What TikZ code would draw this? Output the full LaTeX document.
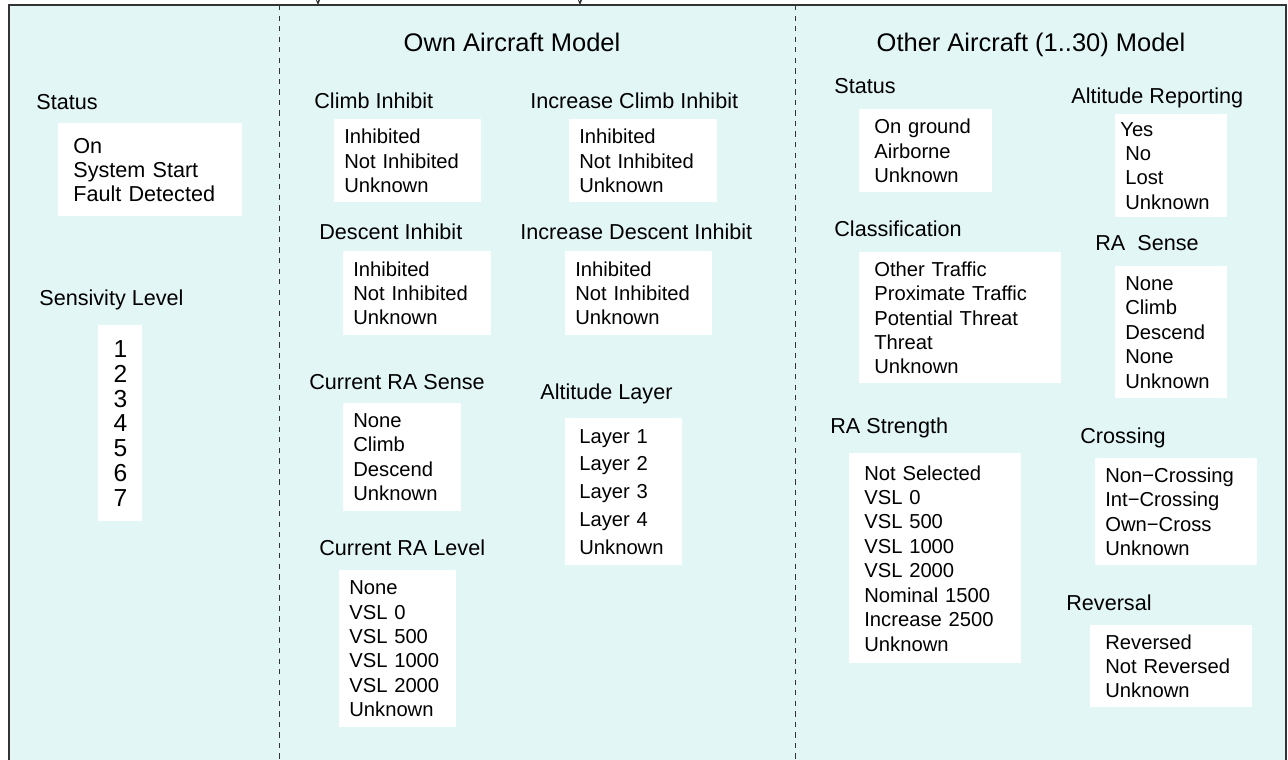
\documentclass[tikz,border=0pt]{standalone}
\usepackage{fontspec}
\setmainfont{Liberation Sans}
\usepackage{tikz}
\usetikzlibrary{arrows.meta,
positioning}
\definecolor{panel}{HTML}{E3F6F6}
\definecolor{frameline}{HTML}{333333}

\begin{document}
\begin{tikzpicture}[
				x=0.02cm, y=-0.02cm,
				title/.style={
					font=\fontsize{14.5}{17}\selectfont,
					anchor=base,
					inner sep=0pt
				},
				field/.style={
					font=\fontsize{12.3}{14}\selectfont,
					anchor=base west,
					inner sep=0pt
				},
				values/.style={
					fill=white,
					anchor=north west,
					align=left,
					inner ysep=0pt,
					font=\fontsize{11.5}{13.9}\selectfont
				}
				]
				\useasboundingbox (0,0) rectangle (1288,760);
				\clip (0,0) rectangle (1288,760);
				
				% frame and panels
				\draw[fill=panel, draw=frameline, line width=0.7pt] (9,5) rectangle (1286,800);
				\draw[dashed, draw=frameline, line width=0.4pt] (279,5) -- (279,800);
				\draw[dashed, draw=frameline, line width=0.4pt] (795,5) -- (795,800);
				
				% incoming arrows from above
				\coordinate (in1) at (318,-20);
				\coordinate (in1end) at (318,5);
				\coordinate (in2) at (580,-20);
				\coordinate (in2end) at (580,5);
				\draw[-{Stealth[length=3pt,width=2.5pt]}, draw=frameline, line width=0.5pt] (in1) -- (in1end);
				\draw[-{Stealth[length=3pt,width=2.5pt]}, draw=frameline, line width=0.5pt] (in2) -- (in2end);
				
				% system panel
				\node[field] (status) at (36,110) {Status};
				\node[values, text width=3.08cm, inner xsep=0.3cm, minimum height=1.86cm,
					font=\fontsize{12.3}{13.6}\selectfont] (statusv) at (58,123) {On\\System Start\\Fault Detected};
				\node[field] (level) at (39,305) {Sensivity Level};
				\node[values, align=center, inner xsep=0pt, minimum width=0.88cm, minimum height=3.92cm,
					font=\fontsize{14}{14.1}\selectfont] (levelv) at (98,325) {1\\2\\3\\4\\5\\6\\7};
				
				% own aircraft model
				\node[title] (own) at (512,52) {Own Aircraft Model};
				
				\node[field] (climb) at (314,109) {Climb Inhibit};
				\node[values, text width=2.54cm, inner xsep=0.2cm, minimum height=1.66cm] (climbv) at (334,119) {Inhibited\\Not Inhibited\\Unknown};
				\node[field] (incclimb) at (530,109) {Increase Climb Inhibit};
				\node[values, text width=2.56cm, inner xsep=0.2cm, minimum height=1.66cm] (incclimbv) at (569,119) {Inhibited\\Not Inhibited\\Unknown};
				
				\node[field] (descent) at (319,240) {Descent Inhibit};
				\node[values, text width=2.56cm, inner xsep=0.2cm, minimum height=1.68cm] (descentv) at (343,251) {Inhibited\\Not Inhibited\\Unknown};
				\node[field] (incdescent) at (520,240) {Increase Descent Inhibit};
				\node[values, text width=2.54cm, inner xsep=0.2cm, minimum height=1.68cm] (incdescentv) at (565,251) {Inhibited\\Not Inhibited\\Unknown};
				
				\node[field] (sense) at (309,389) {Current RA Sense};
				\node[values, text width=1.96cm, inner xsep=0.2cm, minimum height=2.16cm] (sensev) at (343,403) {None\\Climb\\Descend\\Unknown};
				\node[field] (ralevel) at (319,555) {Current RA Level};
				\node[values, text width=1.94cm, inner xsep=0.2cm, minimum height=3.14cm] (ralevelv) at (339,570) {None\\VSL 0\\VSL 500\\VSL 1000\\VSL 2000\\Unknown};
				
				\node[field] (layer) at (540,399) {Altitude Layer};
				\node[values, text width=1.78cm, inner xsep=0.28cm, minimum height=2.94cm,
					font=\fontsize{11.5}{15.8}\selectfont] (layerv) at (565,418) {Layer 1\\Layer 2\\Layer 3\\Layer 4\\Unknown};
				
				% other aircraft model
				\node[title] (other) at (1031,52) {Other Aircraft (1..30) Model};
				
				\node[field] (ostatus) at (834,94) {Status};
				\node[values, text width=2.06cm, inner xsep=0.3cm, minimum height=1.66cm] (ostatusv) at (859,109) {On ground\\Airborne\\Unknown};
				\node[field] (altrep) at (1071,104) {Altitude Reporting};
				\node[values, text width=2.04cm, inner xsep=0.1cm, minimum height=2.06cm] (altrepv) at (1115,114) {Yes\\\hspace*{0.1cm}No\\\hspace*{0.1cm}Lost\\\hspace*{0.1cm}Unknown};
				
				\node[field] (class) at (834,236) {Classification};
				\node[values, text width=3.44cm, inner xsep=0.3cm, minimum height=2.62cm] (classv) at (859,252) {Other Traffic\\Proximate Traffic\\Potential Threat\\Threat\\Unknown};
				\node[field] (rasense) at (1095,251) {RA\ \ Sense};
				\node[values, text width=1.84cm, inner xsep=0.2cm, minimum height=2.64cm] (rasensev) at (1115,266) {None\\Climb\\Descend\\None\\Unknown};
				
				\node[field] (strength) at (830,433) {RA Strength};
				\node[values, text width=2.84cm, inner xsep=0.3cm, minimum height=4.2cm] (strengthv) at (849,453) {Not Selected\\VSL 0\\VSL 500\\VSL 1000\\VSL 2000\\Nominal 1500\\Increase 2500\\Unknown};
				\node[field] (crossing) at (1080,443) {Crossing};
				\node[values, text width=2.84cm, inner xsep=0.2cm, minimum height=2.14cm] (crossingv) at (1095,458) {Non−Crossing\\Int−Crossing\\Own−Cross\\Unknown};
				
				\node[field] (reversal) at (1066,610) {Reversal};
				\node[values, text width=2.64cm, inner xsep=0.3cm, minimum height=1.64cm] (reversalv) at (1090,625) {Reversed\\Not Reversed\\Unknown};
			\end{tikzpicture}
\end{document}
